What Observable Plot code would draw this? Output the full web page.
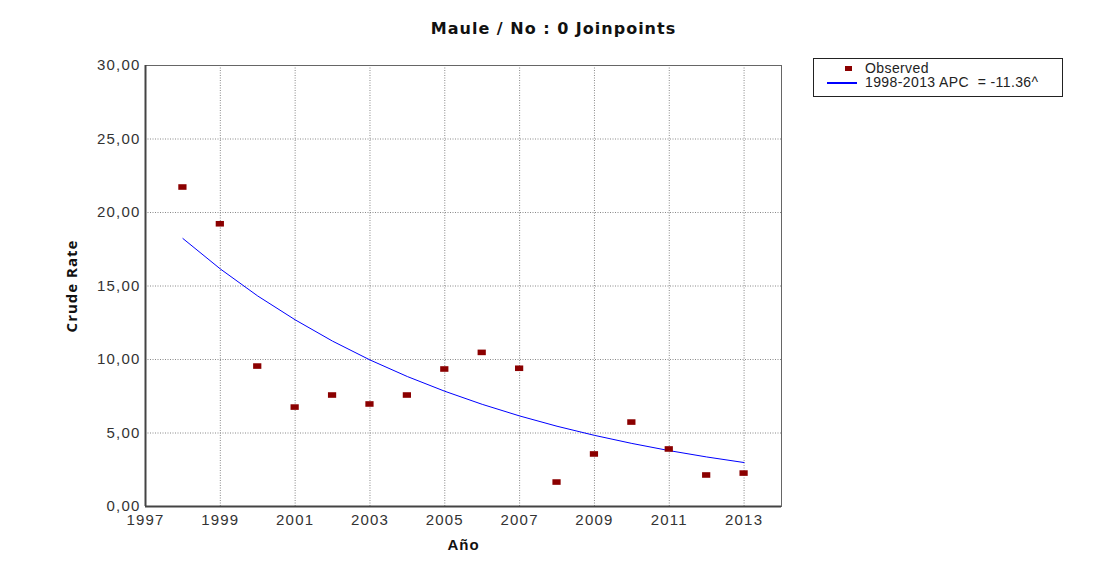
<!DOCTYPE html>
<html>
<head>
<meta charset="utf-8">
<script src="https://cdn.jsdelivr.net/npm/d3@7"></script>
<script src="https://cdn.jsdelivr.net/npm/@observablehq/plot@0.6"></script>
<style>
  body { margin: 0; background: #fff; }
  #wrap { position: relative; width: 1096px; height: 573px; }
  #title { position: absolute; left: 0; width: 1107px; top: 19px; text-align: center;
    font: bold 16px "DejaVu Sans", Verdana, sans-serif; letter-spacing: 1px; color: #111; }
  #legend { position: absolute; left: 813px; top: 58px; width: 250px; height: 39px;
    border: 1px solid #222; font: 14px "Liberation Sans", Arial, sans-serif; letter-spacing: 0.4px; color: #222; box-sizing: border-box; }
  #chart svg text { letter-spacing: 1.2px; }
  #chart svg g[aria-label="text"] text { letter-spacing: 1px; }
</style>
</head>
<body>
<div id="wrap">
  <div id="chart"></div>
  <div id="title">Maule / No : 0 Joinpoints</div>
  <div id="legend">
    <div style="position:absolute;left:31px;top:7px;width:7px;height:5px;background:#8b0000"></div>
    <div style="position:absolute;left:51px;top:1px;">Observed</div>
    <div style="position:absolute;left:13px;top:23px;width:30px;height:0;border-top:2px solid #0000ff"></div>
    <div style="position:absolute;left:51px;top:15px;">1998-2013 APC &nbsp;= -11.36^</div>
  </div>
</div>
<script>
const years = [1998,1999,2000,2001,2002,2003,2004,2005,2006,2007,2008,2009,2010,2011,2012,2013];
const observed = [21.7,19.2,9.52,6.73,7.55,6.94,7.55,9.32,10.45,9.37,1.63,3.54,5.71,3.88,2.11,2.24];
const fitted = [18.23,16.16,14.32,12.70,11.25,9.97,8.84,7.84,6.95,6.16,5.46,4.84,4.29,3.80,3.37,2.99];
const xTicks = [1997,1999,2001,2003,2005,2007,2009,2011,2013];
const yTicks = [0,5,10,15,20,25,30];

const obsData = years.map((y,i)=>({year:y, value:observed[i]}));
const fitData = years.map((y,i)=>({year:y, value:fitted[i]}));
const fmt = v => d3.format(".2f")(v).replace(".", ",");

const chart = Plot.plot({
  width: 1096, height: 573,
  marginLeft: 145, marginTop: 65, marginRight: 315, marginBottom: 67,
  style: {fontFamily: '"Liberation Sans", Arial, sans-serif', fontSize: "15px", color: "#333", background: "#fff"},
  x: {domain: [1997, 2014], label: null},
  y: {domain: [0, 30], label: null},
  marks: [
    Plot.gridX(xTicks.filter(d => d > 1997), {stroke: "#888", strokeOpacity: 1, strokeDasharray: "1,1.5"}),
    Plot.gridY(yTicks.filter(d => d > 0 && d < 30), {stroke: "#888", strokeOpacity: 1, strokeDasharray: "1,1.5"}),
    Plot.frame({stroke: "#666", strokeWidth: 1}),
    Plot.axisX({ticks: xTicks, tickFormat: d => String(d), tickSize: 0, tickPadding: 8, fontSize: 15, fill: "#333"}),
    Plot.axisY({ticks: yTicks, tickFormat: fmt, tickSize: 0, tickPadding: 5, fontSize: 15, fill: "#333"}),
    Plot.ruleX([1997], {stroke: "#444", strokeWidth: 2}),
    Plot.ruleY([0], {stroke: "#444", strokeWidth: 2}),
    Plot.line(fitData, {x: "year", y: "value", stroke: "#0000ff", strokeWidth: 1}),
    Plot.rect(obsData, {x1: d => d.year - 0.11, x2: d => d.year + 0.11, y1: d => d.value - 0.19, y2: d => d.value + 0.19, fill: "#8b0000"}),
    Plot.text(["Año"], {frameAnchor: "bottom", dy: 43, fontWeight: "bold", fontSize: 15, fill: "#111", fontFamily: '"Liberation Sans", Arial, sans-serif'}),
    Plot.text(["Crude Rate"], {frameAnchor: "left", textAnchor: "middle", dx: -73, rotate: -90, fontWeight: "bold", fontSize: 15, fill: "#111", fontFamily: '"Open Sans", sans-serif'})
  ]
});
document.getElementById("chart").appendChild(chart);
</script>
</body>
</html>
